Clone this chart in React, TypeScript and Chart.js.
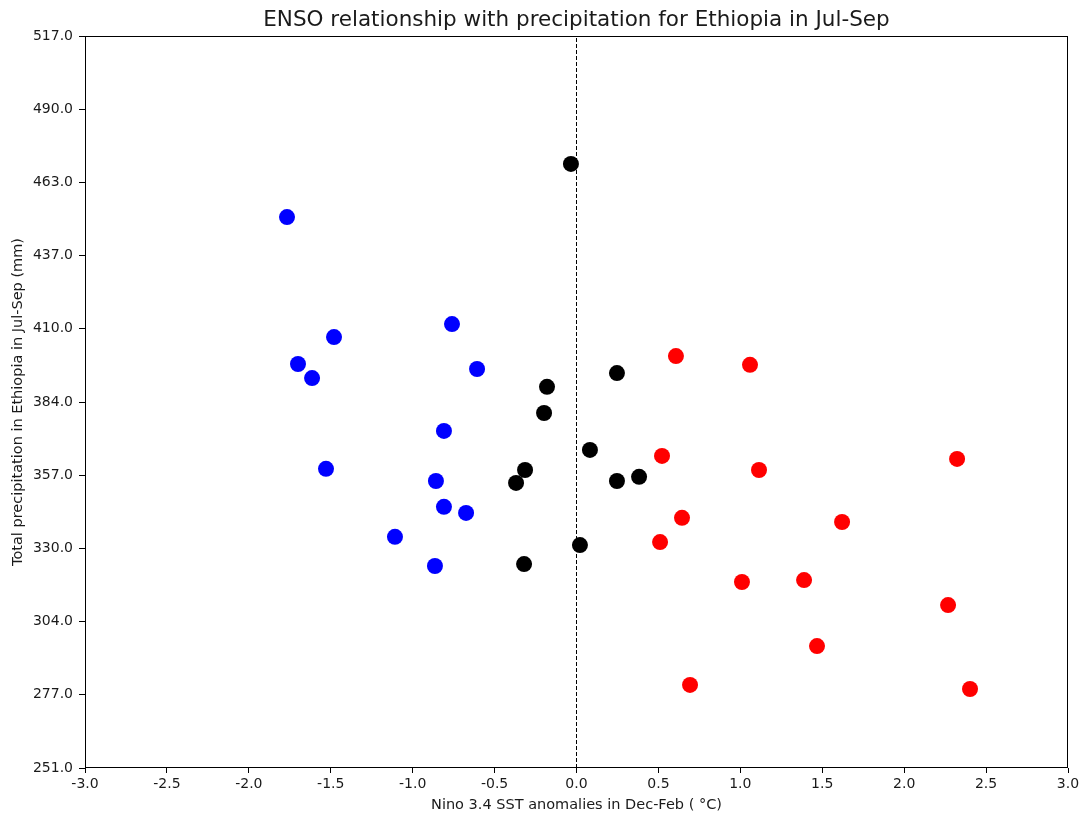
import React, { useEffect, useRef } from "react";
import { Chart, registerables } from "chart.js";

Chart.register(...registerables);

const laNinaX = [-1.767, -1.48, -1.7, -1.614, -0.76, -0.607, -0.809, -1.529, -0.858, -0.809, -0.674, -1.108, -0.864];
const laNinaY = [451.2, 407.6, 397.8, 392.7, 412.3, 396.0, 373.5, 359.7, 355.3, 345.9, 343.7, 335.0, 324.4];

const neutralX = [-0.034, -0.18, 0.247, -0.198, 0.082, -0.314, -0.369, 0.247, 0.382, 0.021, -0.32];
const neutralY = [470.5, 389.5, 394.5, 380.0, 366.6, 359.3, 354.6, 355.3, 356.8, 332.0, 325.1];

const elNinoX = [0.607, 1.059, 0.522, 1.114, 2.323, 0.644, 1.621, 0.51, 1.01, 1.389, 2.268, 1.468, 0.693, 2.402];
const elNinoY = [400.7, 397.5, 364.4, 359.3, 363.3, 341.9, 340.4, 333.1, 318.6, 319.3, 310.2, 295.3, 281.2, 279.7];

const yTickValues = [251, 277.6, 304.2, 330.8, 357.4, 384, 410.6, 437.2, 463.8, 490.4, 517];
const yTickLabels = ["251.0", "277.0", "304.0", "330.0", "357.0", "384.0", "410.0", "437.0", "463.0", "490.0", "517.0"];
const xTickValues = [-3, -2.5, -2, -1.5, -1, -0.5, 0, 0.5, 1, 1.5, 2, 2.5, 3];

const titleText = "ENSO relationship with precipitation for Ethiopia in Jul-Sep";
const xTitle = "Nino 3.4 SST anomalies in Dec-Feb ( \u00B0C)";
const yTitle = "Total precipitation in Ethiopia in Jul-Sep (mm)";

const FONT = "'DejaVu Sans', sans-serif";
const TEXT = "#1a1a1a";

const toPoints = (xs: number[], ys: number[]) => xs.map((x, i) => ({ x, y: ys[i] }));

export default function App() {
  const ref = useRef<HTMLCanvasElement | null>(null);
  useEffect(() => {
    document.body.style.margin = "0";
    const canvas = ref.current!;
    const framePlugin = {
      id: "frame",
      afterDraw(chart: any) {
        const { ctx, chartArea } = chart;
        const l = Math.round(chartArea.left) + 0.5;
        const t = Math.round(chartArea.top) + 0.5;
        const r = Math.round(chartArea.right) - 0.5;
        const b = Math.round(chartArea.bottom) - 0.5;
        ctx.save();
        ctx.strokeStyle = "#000";
        ctx.lineWidth = 1;
        ctx.strokeRect(l, t, r - l, b - t);
        ctx.fillStyle = TEXT;
        ctx.font = `21.5px ${FONT}`;
        ctx.textAlign = "center";
        ctx.textBaseline = "middle";
        ctx.fillText(titleText, (chartArea.left + chartArea.right) / 2, 20);
        ctx.restore();
      },
    };
    const chart = new Chart(canvas, {
      type: "scatter",
      data: {
        datasets: [
          {
            type: "line",
            data: [{ x: 0, y: 251 }, { x: 0, y: 517 }],
            borderColor: "#000",
            borderWidth: 1,
            borderDash: [4, 2],
            pointRadius: 0,
            order: 0,
          } as any,
          { data: toPoints(laNinaX, laNinaY), backgroundColor: "#0000ff", borderWidth: 0, pointRadius: 8, order: 1 },
          { data: toPoints(neutralX, neutralY), backgroundColor: "#000000", borderWidth: 0, pointRadius: 8, order: 1 },
          { data: toPoints(elNinoX, elNinoY), backgroundColor: "#ff0000", borderWidth: 0, pointRadius: 8, order: 1 },
        ],
      },
      options: {
        responsive: false,
        animation: false,
        layout: { padding: { top: 36, right: 16, left: 0, bottom: 0 } },
        plugins: { legend: { display: false }, tooltip: { enabled: false }, title: { display: false } },
        scales: {
          x: {
            type: "linear",
            min: -3,
            max: 3,
            afterBuildTicks: (s: any) => {
              s.ticks = xTickValues.map((v) => ({ value: v }));
            },
            afterFit: (s: any) => {
              s.height = 50;
            },
            ticks: {
              font: { family: FONT, size: 14 },
              color: TEXT,
              padding: 3,
              maxRotation: 0,
              callback: (v: any) => Number(v).toFixed(1),
            },
            grid: { drawOnChartArea: false, tickLength: 5, tickColor: "#000", tickWidth: 1 },
            border: { display: false },
            title: { display: true, text: xTitle, font: { family: FONT, size: 14.5 }, color: TEXT, padding: { top: 0, bottom: 4 } },
          },
          y: {
            type: "linear",
            min: 251,
            max: 517,
            afterBuildTicks: (s: any) => {
              s.ticks = yTickValues.map((v) => ({ value: v }));
            },
            afterFit: (s: any) => {
              s.width = 85;
            },
            ticks: {
              font: { family: FONT, size: 14 },
              color: TEXT,
              padding: 6,
              callback: (v: any) => {
                const i = yTickValues.findIndex((t) => Math.abs(t - Number(v)) < 1e-6);
                return i >= 0 ? yTickLabels[i] : "";
              },
            },
            grid: { drawOnChartArea: false, tickLength: 6, tickColor: "#000", tickWidth: 1 },
            border: { display: false },
            title: { display: true, text: yTitle, font: { family: FONT, size: 14.5 }, color: TEXT, padding: { top: 10, bottom: 0 } },
          },
        },
      },
      plugins: [framePlugin],
    } as any);
    return () => chart.destroy();
  }, []);
  return (
    <div style={{ position: "absolute", left: 0, top: 0, width: 1084, height: 818 }}>
      <canvas ref={ref} width={1084} height={818} />
    </div>
  );
}
